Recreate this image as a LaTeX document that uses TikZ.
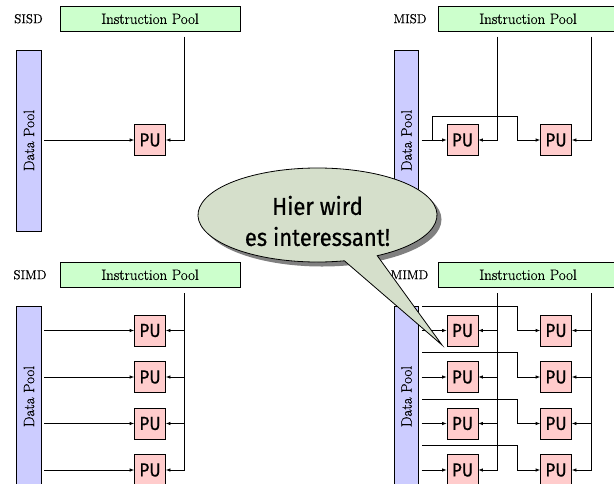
\documentclass[tikz,border=0pt]{standalone}
\usepackage{fontspec}
\usetikzlibrary{arrows.meta,calc}
\newfontfamily\condsans[FakeStretch=0.9,FakeBold=0.5]{Fira Sans}
\newfontfamily\heavyserif[FakeBold=0.4]{Latin Modern Roman}

\definecolor{ipgreen}{RGB}{204,255,204}
\definecolor{dpblue}{RGB}{204,204,255}
\definecolor{pupink}{RGB}{255,204,204}
\definecolor{bubblefill}{RGB}{213,223,203}

\begin{document}
\begin{tikzpicture}[x=1pt,y=1pt,
  line width=0.75pt,
  ipool/.style={draw, fill=ipgreen, minimum width=180pt, minimum height=25pt,
    inner sep=0pt, font=\heavyserif\fontsize{15}{18}\selectfont},
  dpool/.style={draw, fill=dpblue, minimum width=24.5pt, minimum height=181pt,
    inner sep=0pt, font=\heavyserif\fontsize{15}{18}\selectfont},
  pu/.style={draw, fill=pupink, minimum width=31pt, minimum height=31pt,
    inner sep=0pt, font=\condsans\fontsize{19}{22}\selectfont},
  mode/.style={inner sep=0pt, font=\heavyserif\fontsize{13}{15}\selectfont},
  flow/.style={-{Latex[length=4.5pt,width=3.5pt]}},
  bubble/.style={draw, line width=0.8pt, fill=bubblefill},
]
\useasboundingbox (0,0) rectangle (614,-483);
\clip (0,0) rectangle (614,-483);

% ---------------- SISD ----------------
\node[mode]  (sisdL) at (28.5,-18.75) {SISD};
\node[ipool] (sisdI) at (150,-18.75) {Instruction Pool};
\node[dpool] (sisdD) at (29,-140.5) {\rotatebox{90}{Data Pool}};
\node[pu]    (sisdP) at (150,-140) {PU};
\coordinate (sisdIx) at (184,-36.5);
\draw[flow, shorten <=2.5pt] (sisdD.east |- sisdP) -- (sisdP);
\draw[flow] (sisdIx) |- (sisdP);

% ---------------- MISD ----------------
\node[mode]  (misdL) at (410,-18.75) {MISD};
\node[ipool] (misdI) at (528,-18.75) {Instruction Pool};
\node[dpool] (misdD) at (406.5,-140.5) {\rotatebox{90}{Data Pool}};
\node[pu]    (misdP1) at (462.5,-140) {PU};
\node[pu]    (misdP2) at (556,-140) {PU};
\coordinate (misdIa) at (497,-36.5);
\coordinate (misdIb) at (591,-36.5);
\coordinate (misdB0) at (432,-140);
\coordinate (misdB1) at (432,-116);
\coordinate (misdB2) at (517,-116);
\draw[flow, shorten <=2.5pt] (misdD.east |- misdP1) -- (misdP1);
\draw[flow] (misdB0) -- (misdB1) -- (misdB2) |- (misdP2);
\draw[flow] (misdIa) |- (misdP1);
\draw[flow] (misdIb) |- (misdP2);

% ---------------- SIMD ----------------
\node[mode]  (simdL) at (30,-274.75) {SIMD};
\node[ipool] (simdI) at (150,-274.75) {Instruction Pool};
\node[dpool] (simdD) at (29,-396.5) {\rotatebox{90}{Data Pool}};
\foreach \k/\y in {1/330.5, 2/377, 3/423.5, 4/470} {
  \node[pu] (simdP\k) at (150,-\y) {PU};
  \draw[flow, shorten <=2.5pt] (simdD.east |- simdP\k) -- (simdP\k);
}
\coordinate (simdIx) at (184,-293);
\draw[flow] (simdIx) |- (simdP4);
\foreach \k in {1,2,3} {
  \draw[flow] (simdP\k -| simdIx) -- (simdP\k);
}

% ---------------- MIMD ----------------
\node[mode]  (mimdL) at (409.5,-274.75) {MIMD};
\node[ipool] (mimdI) at (528,-274.75) {Instruction Pool};
\node[dpool] (mimdD) at (406.5,-396.5) {\rotatebox{90}{Data Pool}};
\coordinate (mimdIa) at (497,-293);
\coordinate (mimdIb) at (591,-293);
\foreach \k/\y in {1/330.5, 2/377, 3/423.5, 4/470} {
  \node[pu] (mimdA\k) at (462.5,-\y) {PU};
  \node[pu] (mimdB\k) at (556,-\y) {PU};
  \coordinate (mimdS\k) at (422,-\y+24.5);
  \coordinate (mimdT\k) at (517,-\y+24.5);
  \draw[flow, shorten <=2.5pt] (mimdD.east |- mimdA\k) -- (mimdA\k);
  \draw[flow] (mimdS\k) -- (mimdT\k) |- (mimdB\k);
}
\draw[flow] (mimdIa) |- (mimdA4);
\draw[flow] (mimdIb) |- (mimdB4);
\foreach \k in {1,2,3} {
  \draw[flow] (mimdA\k -| mimdIa) -- (mimdA\k);
  \draw[flow] (mimdB\k -| mimdIb) -- (mimdB\k);
}

% ---------------- speech bubble ----------------
\coordinate (bc) at (317.5,-215);
\coordinate (btip) at (442,-345);
\fill[black!50] ($(bc)+(4.5,-4.5)$) ellipse [x radius=119.5, y radius=47];
\draw[bubble] (btip) -- ($(bc)+(-60:119.5 and 47)$)
  arc[start angle=-60, end angle=283, x radius=119.5, y radius=47] -- cycle;
\node[align=center, inner sep=0pt, font=\condsans\fontsize{24.5}{31}\selectfont]
  (bubtext) at (317.5,-221) {Hier wird\\es interessant!};
\end{tikzpicture}
\end{document}
